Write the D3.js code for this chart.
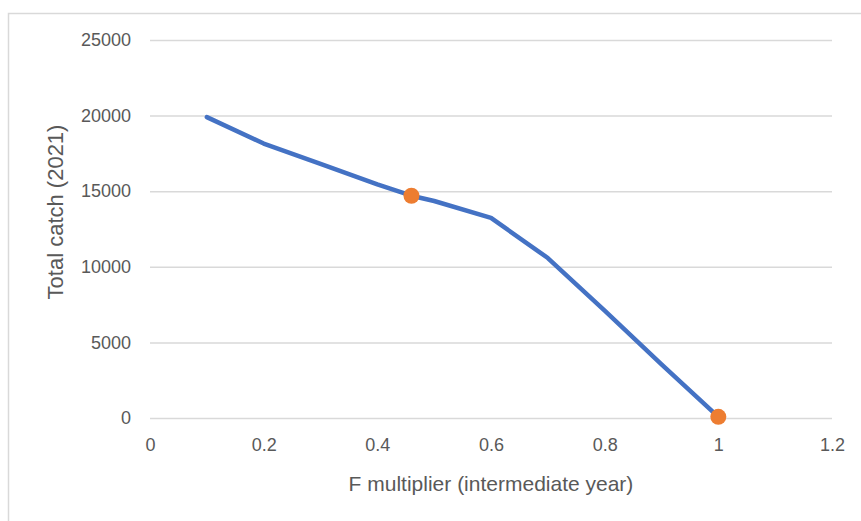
<!DOCTYPE html>
<html>
<head>
<meta charset="utf-8">
<script src="https://cdn.jsdelivr.net/npm/d3@7"></script>
<style>
  body { margin: 0; background: #fff; }
  text { font-family: "Liberation Sans", Arial, sans-serif; fill: #595959; }
</style>
</head>
<body>
<div id="main"></div>
<script>
// F multiplier vs total catch
const fMult = [0.1, 0.2, 0.3, 0.4, 0.46, 0.5, 0.6, 0.7, 0.8, 0.9, 1.0];
const catchVals = [19900, 18150, 16800, 15450, 14700, 14350, 13230, 10580, 7100, 3550, 80];

// highlighted points
const markF = [0.46, 1.0];
const markCatch = [14700, 80];

const xTicks = [0, 0.2, 0.4, 0.6, 0.8, 1, 1.2];
const yTicks = [0, 5000, 10000, 15000, 20000, 25000];

const xTitle = "F multiplier (intermediate year)";
const yTitle = "Total catch (2021)";

class CatchChart {
  constructor(config) {
    this.config = config;
    this.svg = null;
    this.plot = null;
    this.xScale = null;
    this.yScale = null;

    this.createSvg();
    this.createScales();
  }

  createSvg() {
    this.svg = d3.select(this.config.div)
      .append("svg")
      .attr("width", this.config.w)
      .attr("height", this.config.h);

    // frame (only top and left visible)
    this.svg.append("path")
      .attr("d", `M8.5,${this.config.h} V13.5 H${this.config.w}`)
      .attr("fill", "none")
      .attr("stroke", "#d9d9d9")
      .attr("stroke-width", 1.5);

    this.plot = this.svg.append("g");
  }

  createScales() {
    this.xScale = d3.scaleLinear().domain([0, 1.2]).range([150, 832]);
    this.yScale = d3.scaleLinear().domain([0, 25000]).range([418, 40]);
  }

  createAxis() {
    let yAxis = d3.axisLeft(this.yScale)
      .tickValues(yTicks)
      .tickSize(-(832 - 150))
      .tickPadding(19)
      .tickFormat(d3.format("d"));

    let gy = this.plot.append("g")
      .attr("transform", `translate(150,0)`)
      .call(yAxis);
    gy.select(".domain").remove();
    gy.selectAll("line").attr("stroke", "#d9d9d9").attr("stroke-width", 1.5);
    gy.selectAll("text").style("font-size", "18px").attr("fill", "#595959");

    let xAxis = d3.axisBottom(this.xScale)
      .tickValues(xTicks)
      .tickSize(0)
      .tickPadding(20)
      .tickFormat(d => d3.format("")(d));

    let gx = this.plot.append("g")
      .attr("transform", `translate(0,${this.yScale(0)})`)
      .call(xAxis);
    gx.select(".domain").remove();
    gx.selectAll("text").style("font-size", "18px").attr("fill", "#595959");

    this.svg.append("text")
      .attr("x", 491)
      .attr("y", 491)
      .attr("text-anchor", "middle")
      .style("font-size", "21px")
      .text(xTitle);

    this.svg.append("text")
      .attr("transform", "translate(63,212) rotate(-90)")
      .attr("text-anchor", "middle")
      .style("font-size", "22px")
      .text(yTitle);
  }

  createLine() {
    const pts = fMult.map((f, i) => [f, catchVals[i]]);
    const line = d3.line()
      .x(d => this.xScale(d[0]))
      .y(d => this.yScale(d[1]));

    this.plot.append("path")
      .datum(pts)
      .attr("d", line)
      .attr("fill", "none")
      .attr("stroke", "#4472c4")
      .attr("stroke-width", 4.5)
      .attr("stroke-linejoin", "round")
      .attr("stroke-linecap", "round");

    this.plot.selectAll("circle")
      .data(markF.map((f, i) => [f, markCatch[i]]))
      .join("circle")
      .attr("cx", d => this.xScale(d[0]))
      .attr("cy", d => this.yScale(d[1]))
      .attr("r", 8)
      .attr("fill", "#ed7d31");
  }
}

function main() {
  let c = { div: "#main", w: 861, h: 521 };
  let chart = new CatchChart(c);
  chart.createAxis();
  chart.createLine();
}

main();
</script>
</body>
</html>
